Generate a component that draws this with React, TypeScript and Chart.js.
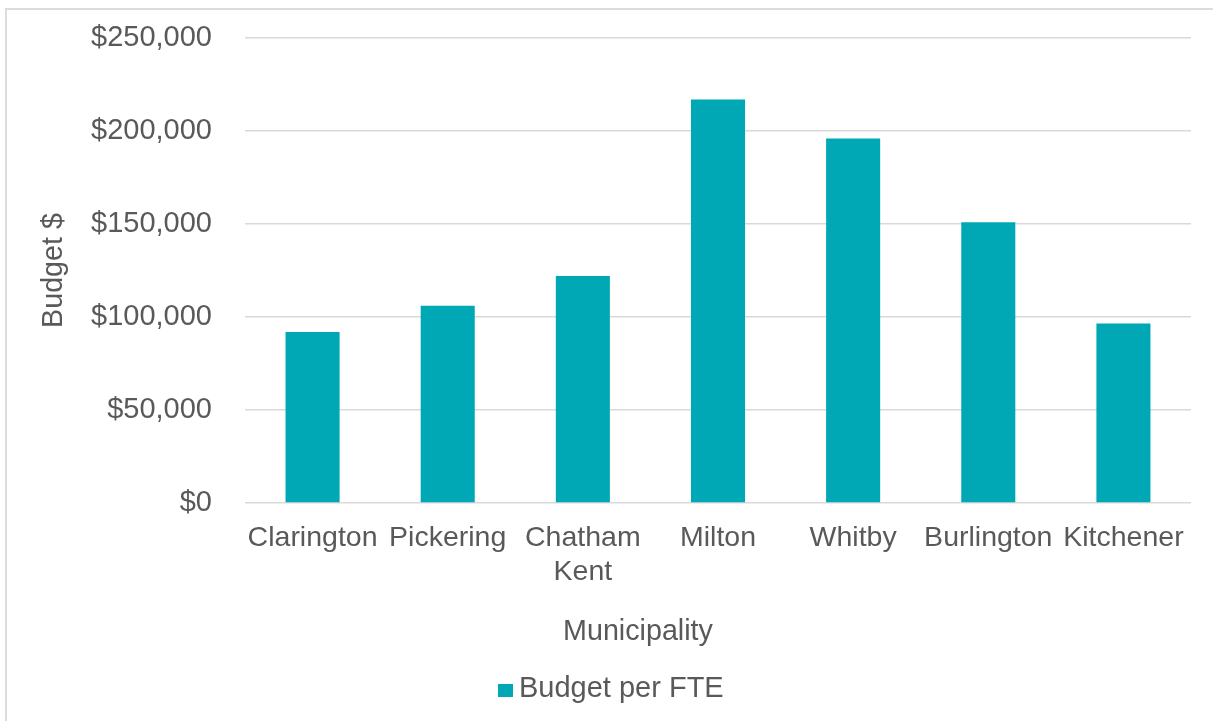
import React, { useEffect, useRef } from "react";
import { Chart, registerables } from "chart.js";

Chart.register(...registerables);

const categories: (string | string[])[] = [
  "Clarington",
  "Pickering",
  ["Chatham", "Kent"],
  "Milton",
  "Whitby",
  "Burlington",
  "Kitchener",
];
const budgetPerFTE = [92000, 106000, 122000, 217000, 196000, 151000, 96500];
const seriesLabel = "Budget per FTE";
const yAxisTitle = "Budget $";
const xAxisTitle = "Municipality";
const yMin = 0;
const yMax = 250000;
const yStep = 50000;

const TEXT = "#595959";
const GRID = "#d9d9d9";
const BAR = "#00A8B5";
const FONT = "'Liberation Sans', Arial, sans-serif";

// draws the x-axis title (centred on the whole frame) and the legend
const annotationsPlugin = {
  id: "annotationsPlugin",
  afterDraw(chart: any) {
    const ctx = chart.ctx;
    const xs = chart.scales.x;
    ctx.save();
    ctx.font = `28.7px ${FONT}`;
    ctx.fillStyle = TEXT;
    ctx.textAlign = "center";
    ctx.textBaseline = "middle";
    ctx.fillText(xAxisTitle, 638, xs.bottom - 33);

    const ds = chart.data.datasets[0];
    ctx.fillStyle = ds.backgroundColor;
    ctx.fillRect(498, 684, 15, 13);
    ctx.font = `29px ${FONT}`;
    ctx.fillStyle = TEXT;
    ctx.textAlign = "left";
    ctx.textBaseline = "alphabetic";
    ctx.fillText(ds.label, 519, 697);
    ctx.restore();
  },
};

export default function App() {
  const ref = useRef<HTMLCanvasElement | null>(null);

  useEffect(() => {
    if (!ref.current) return;
    const chart = new Chart(ref.current, {
      type: "bar",
      data: {
        labels: categories,
        datasets: [
          {
            label: seriesLabel,
            data: budgetPerFTE,
            backgroundColor: BAR,
            borderWidth: 0,
            categoryPercentage: 1,
            barPercentage: 0.4,
          },
        ],
      },
      plugins: [annotationsPlugin],
      options: {
        animation: false,
        responsive: false,
        maintainAspectRatio: false,
        devicePixelRatio: 1,
        layout: { padding: { left: 30, top: 38, right: 22, bottom: 56 } },
        plugins: {
          tooltip: { enabled: false },
          legend: { display: false },
        },
        scales: {
          x: {
            grid: { display: false, drawTicks: false },
            border: { display: false },
            ticks: {
              color: TEXT,
              font: { family: FONT, size: 28.5 },
              padding: 18,
              maxRotation: 0,
              autoSkip: false,
            },
            title: { display: false },
            afterFit: (scale: any) => {
              scale.height = 162;
            },
          },
          y: {
            min: yMin,
            max: yMax,
            grid: {
              color: GRID,
              lineWidth: 1.5,
              drawTicks: true,
              tickLength: 33,
              tickColor: "rgba(0,0,0,0)",
            },
            border: { display: false },
            ticks: {
              stepSize: yStep,
              color: TEXT,
              font: { family: FONT, size: 29 },
              padding: 0,
              callback: (v: any) => "$" + Number(v).toLocaleString("en-US"),
            },
            title: {
              display: true,
              text: yAxisTitle,
              color: TEXT,
              font: { family: FONT, size: 28.7 },
              padding: { top: 7, bottom: 4 },
            },
            afterFit: (scale: any) => {
              scale.width = 215;
            },
          },
        },
      },
    });
    return () => chart.destroy();
  }, []);

  return (
    <div
      style={{
        position: "fixed",
        left: 0,
        top: 0,
        width: 1213,
        height: 721,
        overflow: "hidden",
        background: "#fff",
      }}
    >
      <div
        style={{
          position: "absolute",
          left: 5,
          top: 8,
          width: 1240,
          height: 760,
          border: "2px solid #dcdcdc",
          boxSizing: "border-box",
        }}
      />
      <canvas
        ref={ref}
        width={1213}
        height={721}
        style={{ position: "absolute", left: 0, top: 0, width: 1213, height: 721 }}
      />
    </div>
  );
}
